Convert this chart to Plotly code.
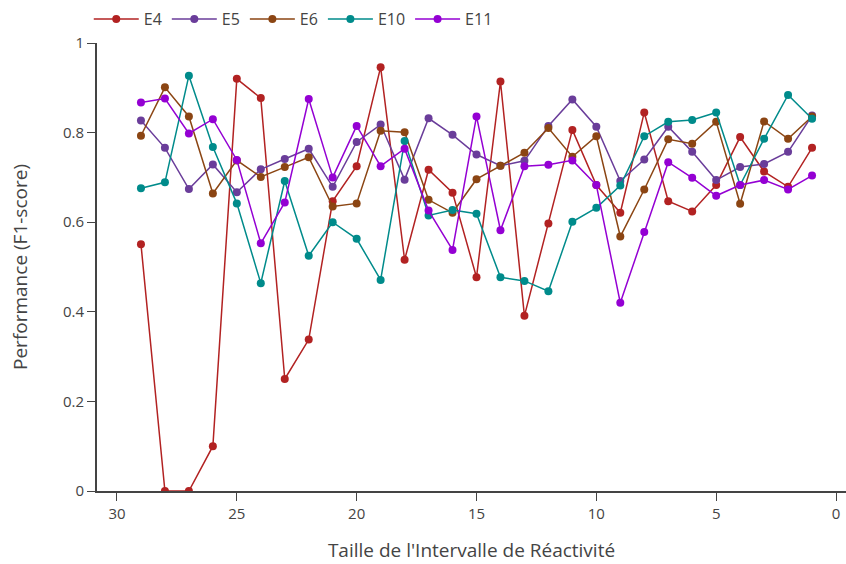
import plotly.graph_objects as go

# Interval sizes (x) and F1-scores per experiment
intervals = list(range(29, 0, -1))

e4 = [0.551, 0.0, 0.0, 0.100, 0.920, 0.877, 0.250, 0.338, 0.647, 0.725,
      0.946, 0.516, 0.717, 0.666, 0.477, 0.914, 0.391, 0.597, 0.806, 0.683,
      0.621, 0.845, 0.647, 0.624, 0.683, 0.790, 0.713, 0.679, 0.766]
e5 = [0.827, 0.766, 0.674, 0.729, 0.667, 0.718, 0.741, 0.764, 0.679, 0.779,
      0.818, 0.695, 0.832, 0.795, 0.751, 0.726, 0.737, 0.815, 0.874, 0.813,
      0.692, 0.740, 0.813, 0.757, 0.694, 0.723, 0.730, 0.757, 0.838]
e6 = [0.793, 0.901, 0.836, 0.664, 0.738, 0.701, 0.723, 0.745, 0.635, 0.642,
      0.804, 0.801, 0.650, 0.621, 0.696, 0.726, 0.755, 0.810, 0.746, 0.792,
      0.568, 0.673, 0.785, 0.775, 0.824, 0.641, 0.825, 0.786, 0.836]
e10 = [0.676, 0.689, 0.927, 0.768, 0.642, 0.464, 0.692, 0.525, 0.600, 0.563,
       0.471, 0.781, 0.615, 0.627, 0.619, 0.477, 0.469, 0.446, 0.601, 0.632,
       0.682, 0.792, 0.824, 0.828, 0.845, 0.683, 0.786, 0.884, 0.831]
e11 = [0.867, 0.876, 0.798, 0.830, 0.739, 0.553, 0.644, 0.875, 0.700, 0.815,
       0.725, 0.764, 0.626, 0.538, 0.836, 0.582, 0.725, 0.728, 0.738, 0.683,
       0.420, 0.578, 0.734, 0.699, 0.659, 0.683, 0.694, 0.673, 0.704]

series = [
    ("E4", e4, "#B22222"),
    ("E5", e5, "#6A3D9A"),
    ("E6", e6, "#8B4513"),
    ("E10", e10, "#008B8B"),
    ("E11", e11, "#9400D3"),
]

fig = go.Figure()
for name, vals, color in series:
    fig.add_trace(go.Scatter(
        x=intervals, y=vals, name=name, mode="lines+markers",
        line=dict(color=color, width=1.5),
        marker=dict(color=color, size=8),
    ))

fig.update_layout(
    width=846, height=564,
    paper_bgcolor="white", plot_bgcolor="white",
    margin=dict(l=97, r=0, t=43, b=73),
    font=dict(family="Open Sans", size=15, color="#444"),
    legend=dict(orientation="h", x=-0.011, xanchor="left", y=1.0156, yanchor="bottom",
                itemwidth=45, font=dict(size=16)),
    xaxis=dict(
        title=dict(text="Taille de l'Intervalle de Réactivité", font=dict(size=19),
                   standoff=22),
        range=[30.834, -0.417], tickvals=[30, 25, 20, 15, 10, 5, 0],
        showline=True, linecolor="#444", linewidth=2,
        ticks="outside", ticklen=8, tickcolor="#444", showgrid=False, zeroline=False,
    ),
    yaxis=dict(
        title=dict(text="Performance (F1-score)", font=dict(size=19), standoff=30),
        range=[0, 1], tickvals=[0, 0.2, 0.4, 0.6, 0.8, 1],
        showline=True, linecolor="#444", linewidth=2,
        ticks="outside", ticklen=8, tickcolor="#444", showgrid=False, zeroline=False,
    ),
)

fig.write_html("out.html")
